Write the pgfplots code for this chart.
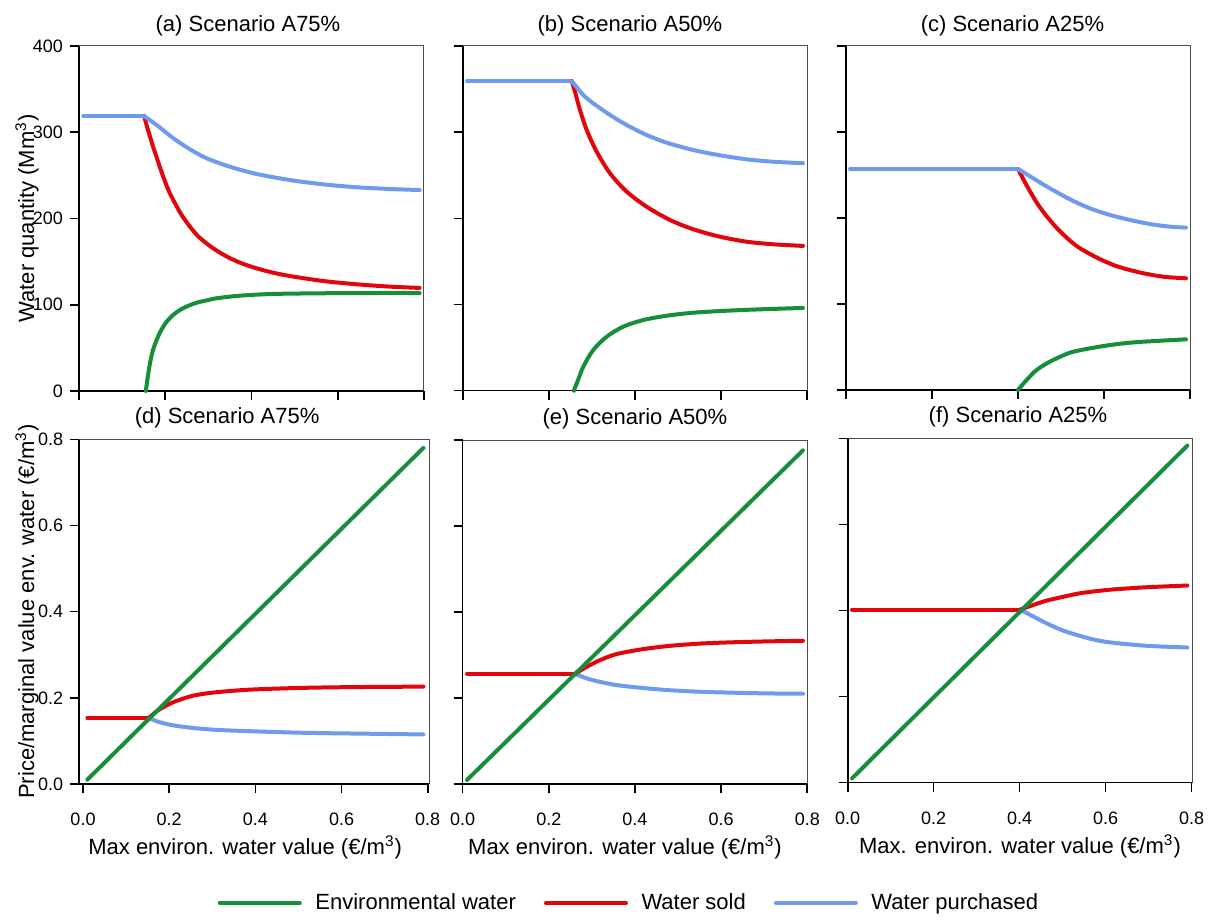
\documentclass[border=0pt]{standalone}
\usepackage{pgfplots}
\pgfplotsset{compat=1.18}
\usepackage{fontspec}
\setmainfont{Liberation Sans}
\definecolor{cgreen}{RGB}{22,142,58}
\definecolor{cred}{RGB}{226,6,12}
\definecolor{cblue}{RGB}{110,155,238}
\pgfplotsset{
  panel/.style={
    scale only axis, anchor=south west,
    axis x line*=bottom, axis y line*=left,
    axis line style={black, line width=0.8pt, -},
    tick align=outside, major tick length=4.5pt,
    every tick/.style={black, line width=0.8pt},
    clip=false,
    xmin=0, xmax=0.8, xtick={0,0.2,0.4,0.6,0.8},
    tick label style={font=\fontsize{9}{10.8}\selectfont},
    /pgf/number format/assume math mode=true,
    label style={font=\fontsize{11}{13}\selectfont},
    title style={font=\fontsize{11}{13}\selectfont, at={(0.5,1)}, anchor=base, yshift=1pt},
    every axis plot/.append style={line width=2pt, line join=round, line cap=round, no markers},
    extra description/.code={\draw[black!70, line width=0.5pt] (axis description cs:0,1) -- (axis description cs:1,1) -- (axis description cs:1,0);},
  },
  toprow/.style={panel, ymin=0, ymax=400, ytick={0,100,200,300,400}, xticklabels={}},
  botrow/.style={panel, ymin=0, ymax=0.8, ytick={0,0.2,0.4,0.6,0.8},
    yticklabel style={/pgf/number format/fixed, /pgf/number format/fixed zerofill, /pgf/number format/precision=1},
    xticklabel style={yshift=-6.5pt, /pgf/number format/fixed, /pgf/number format/fixed zerofill, /pgf/number format/precision=1},
    xlabel style={at={(axis description cs:0.5,-0.205)}, anchor=base},
    title style={yshift=1pt}},
  curve/.style={smooth, tension=0.5},
}
\begin{document}
\begin{tikzpicture}
\useasboundingbox (0,0) rectangle (606pt,460pt);

% (a)
\begin{axis}[toprow, at={(39.5pt,264.5pt)}, width=172.5pt, height=172.5pt,
  title={(a) Scenario A75\%}, title style={xshift=-1.75pt},
  ylabel={Water quantity (Mm\textsuperscript{3})},
  ylabel style={at={(axis description cs:-0.130,0.5)}, anchor=base}]
\addplot[cgreen, curve] coordinates {(0.155,0) (0.1585,13) (0.1646,32.1) (0.171,46.5) (0.180,59.1) (0.19,70) (0.2033,80.4) (0.218,88) (0.234,93.9) (0.25,98) (0.273,102.4) (0.3,105.5) (0.319,107.5) (0.373,110.5) (0.45,112.5) (0.5665,113.3) (0.68,113.6) (0.79,113.6)};
\addplot[cred, curve] coordinates {(0.151,318.8) (0.158,306) (0.1646,295) (0.172,283) (0.180,271) (0.19,256) (0.1994,243) (0.21,230) (0.2265,214) (0.24,202.5) (0.2574,190.5) (0.275,180) (0.296,171) (0.32,162.5) (0.350,154) (0.38,147.5) (0.412,142.2) (0.45,137.2) (0.489,133.3) (0.5665,127.5) (0.644,123.7) (0.721,121) (0.79,119.5)};
\addplot[cblue] coordinates {(0.01,318.8) (0.147,318.8)};
\addplot[cblue, curve] coordinates {(0.147,318.8) (0.153,318) (0.16,315.5) (0.170,312) (0.180,308.4) (0.2,300.5) (0.2187,293) (0.2574,280.2) (0.296,269.8) (0.350,260) (0.412,251.6) (0.489,244.6) (0.5665,239.6) (0.644,236.2) (0.721,234.2) (0.79,233)};
\end{axis}

% (b)
\begin{axis}[toprow, at={(231.35pt,264.65pt)}, width=172.3pt, height=172.35pt,
  yticklabels={}, title={(b) Scenario A50\%}, title style={xshift=-2.5pt}]
\addplot[cgreen, curve] coordinates {(0.258,0) (0.269,14) (0.28,27.9) (0.303,47.2) (0.3343,62.7) (0.3729,74.3) (0.4193,82) (0.4736,87) (0.5354,90.5) (0.6129,92.8) (0.690,94.4) (0.79,96)};
\addplot[cred, curve] coordinates {(0.253,359.4) (0.2607,347) (0.2723,325.7) (0.2879,302.5) (0.311,277.4) (0.342,252.3) (0.3807,231) (0.427,213.5) (0.4813,198.1) (0.5354,187.3) (0.597,178.7) (0.659,172.9) (0.721,169.9) (0.79,168)};
\addplot[cblue] coordinates {(0.01,359.4) (0.249,359.4)};
\addplot[cblue, curve] coordinates {(0.249,359.4) (0.256,357.5) (0.265,352) (0.28,343) (0.303,333.5) (0.342,320) (0.3807,308.3) (0.427,296.7) (0.4736,287.8) (0.5354,279.3) (0.597,273.2) (0.659,268.5) (0.721,265.7) (0.79,264)};
\end{axis}

% (c)
\begin{axis}[toprow, at={(422.85pt,265pt)}, width=172.3pt, height=172pt,
  yticklabels={}, title={(c) Scenario A25\%}, title style={xshift=-2.75pt}]
\addplot[cgreen, curve] coordinates {(0.40,0) (0.420,11.6) (0.4434,23.3) (0.474,32.9) (0.5207,43.4) (0.567,48.4) (0.614,52.3) (0.660,55) (0.706,56.6) (0.79,58.9)};
\addplot[cred, curve] coordinates {(0.40,257) (0.42,238) (0.4434,218) (0.4666,202) (0.4975,184.5) (0.536,167.5) (0.5827,154) (0.629,144) (0.683,136.6) (0.7374,131.7) (0.79,129.9)};
\addplot[cblue] coordinates {(0.01,257) (0.396,257)};
\addplot[cblue, curve] coordinates {(0.396,257) (0.405,255.5) (0.4355,246.1) (0.474,234.5) (0.5207,221.7) (0.567,211.2) (0.614,203.5) (0.660,197.7) (0.7064,193) (0.753,189.9) (0.79,188.8)};
\end{axis}

% (d)
\begin{axis}[botrow, at={(39.65pt,68pt)}, width=174.85pt, height=172.35pt,
  xmin=-0.0086, xmax=0.803,
  title={(d) Scenario A75\%}, title style={xshift=-13.5pt},
  xlabel={Max environ. water value (€/m\textsuperscript{3})}, xlabel style={xshift=-4.5pt},
  ylabel={Price/marginal value env. water (€/m\textsuperscript{3})},
  ylabel style={at={(axis description cs:-0.1295,0.5)}, anchor=base}]
\addplot[cblue, curve] coordinates {(0.152,0.153) (0.165,0.148) (0.179,0.143) (0.21,0.136) (0.256,0.130) (0.31,0.1256) (0.388,0.1225) (0.504,0.119) (0.62,0.1172) (0.79,0.115)};
\addplot[cred] coordinates {(0.01,0.153) (0.152,0.153)};
\addplot[cred, curve] coordinates {(0.152,0.153) (0.165,0.164) (0.179,0.174) (0.21,0.19) (0.256,0.205) (0.31,0.213) (0.388,0.219) (0.504,0.223) (0.62,0.2248) (0.79,0.226)};
\addplot[cgreen] coordinates {(0.01,0.01) (0.79,0.78)};
\end{axis}

% (e)
\begin{axis}[botrow, at={(231.35pt,67.85pt)}, width=172.3pt, height=172.15pt,
  yticklabels={}, title={(e) Scenario A50\%},
  xlabel={Max environ. water value (€/m\textsuperscript{3})}, xlabel style={xshift=-5pt},
  legend columns=3,
  legend style={draw=none, fill=none, at={(0.4855,-0.3448)}, anchor=center,
    font=\fontsize{11}{13}\selectfont,
    /tikz/every odd column/.append style={column sep=4.8pt},
    /tikz/every even column/.append style={column sep=12pt}},
  legend image code/.code={\draw[#1, line width=2pt] (0pt,0pt) -- (40pt,0pt);}]
\addlegendimage{cgreen, line width=2pt}
\addlegendentry{Environmental water}
\addlegendimage{cred, line width=2pt}
\addlegendentry{Water sold}
\addlegendimage{cblue, line width=2pt}
\addlegendentry{Water purchased}
\addplot[cblue, curve, forget plot] coordinates {(0.261,0.257) (0.288,0.246) (0.319,0.238) (0.357,0.2306) (0.412,0.2244) (0.474,0.219) (0.551,0.215) (0.628,0.2128) (0.706,0.2112) (0.79,0.2104)};
\addplot[cred, forget plot] coordinates {(0.01,0.257) (0.261,0.257)};
\addplot[cred, curve, forget plot] coordinates {(0.261,0.257) (0.288,0.273) (0.319,0.2886) (0.357,0.3025) (0.412,0.313) (0.474,0.321) (0.551,0.327) (0.628,0.330) (0.706,0.332) (0.79,0.3335)};
\addplot[cgreen, forget plot] coordinates {(0.01,0.01) (0.79,0.776)};
\end{axis}

% (f)
\begin{axis}[botrow, at={(423.85pt,68.65pt)}, width=172.3pt, height=172.2pt,
  xmax=0.8015, yticklabels={}, title={(f) Scenario A25\%}, title style={xshift=-1pt},
  xlabel={Max. environ. water value (€/m\textsuperscript{3})}]
\addplot[cblue, curve] coordinates {(0.401,0.402) (0.432,0.386) (0.463,0.370) (0.502,0.353) (0.540,0.341) (0.579,0.331) (0.618,0.325) (0.695,0.318) (0.79,0.314)};
\addplot[cred] coordinates {(0.01,0.402) (0.401,0.402)};
\addplot[cred, curve] coordinates {(0.401,0.402) (0.432,0.413) (0.463,0.423) (0.502,0.432) (0.540,0.44) (0.579,0.445) (0.618,0.449) (0.695,0.454) (0.79,0.458)};
\addplot[cgreen] coordinates {(0.01,0.01) (0.79,0.783)};
\end{axis}
\end{tikzpicture}
\end{document}
